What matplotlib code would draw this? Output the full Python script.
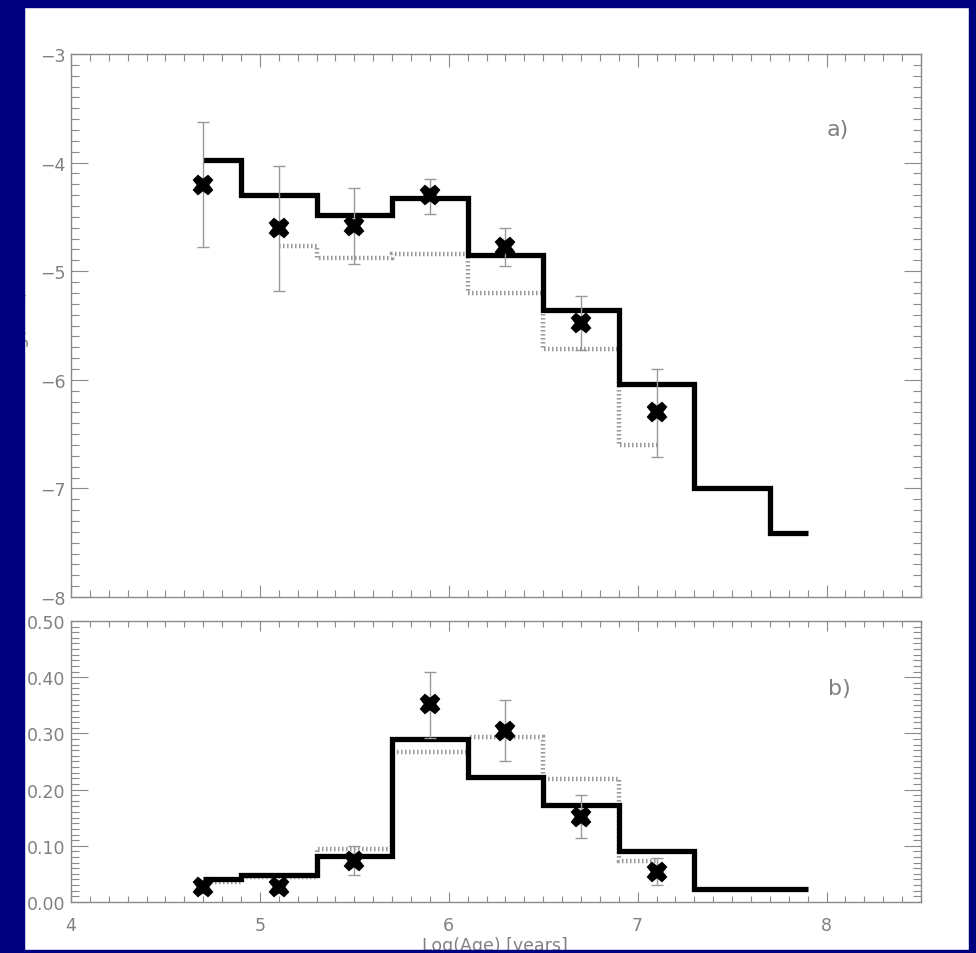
"""
SFR history (a) and age distribution (b): step histograms with data points.
"""
import matplotlib
matplotlib.use('Agg')
import matplotlib.pyplot as plt
from matplotlib.patches import Rectangle
from matplotlib.ticker import MultipleLocator, FormatStrFormatter, FuncFormatter

# --- data -------------------------------------------------------------
# panel a: log SFR
a_edges = [4.7, 4.9, 5.3, 5.7, 6.1, 6.5, 6.9, 7.3, 7.7, 7.9]
a_model = [-3.98, -4.30, -4.48, -4.33, -4.85, -5.36, -6.04, -7.00, -7.41]
a_alt_edges = [5.1, 5.3, 5.7, 6.1, 6.5, 6.9, 7.1]
a_alt = [-4.77, -4.88, -4.84, -5.20, -5.72, -6.60]
a_x = [4.7, 5.1, 5.5, 5.9, 6.3, 6.7, 7.1]
a_y = [-4.21, -4.60, -4.58, -4.30, -4.78, -5.48, -6.30]
a_err_lo = [0.57, 0.58, 0.35, 0.17, 0.17, 0.25, 0.41]
a_err_hi = [0.58, 0.57, 0.35, 0.15, 0.18, 0.25, 0.40]

# panel b: fraction
b_edges = [4.7, 4.9, 5.3, 5.7, 6.1, 6.5, 6.9, 7.3, 7.9]
b_model = [0.040, 0.048, 0.081, 0.290, 0.222, 0.173, 0.090, 0.023]
b_alt_edges = [4.7, 4.9, 5.3, 5.7, 6.1, 6.5, 6.9, 7.1]
b_alt = [0.036, 0.044, 0.095, 0.267, 0.293, 0.219, 0.073]
b_x = [4.7, 5.1, 5.5, 5.9, 6.3, 6.7, 7.1]
b_y = [0.026, 0.026, 0.073, 0.352, 0.305, 0.152, 0.054]
b_err_lo = [0.010, 0.010, 0.025, 0.060, 0.055, 0.038, 0.023]
b_err_hi = [0.010, 0.010, 0.027, 0.058, 0.055, 0.038, 0.024]

GRAY = '#8a8a8a'
LABEL = '#808080'
NAVY = '#00007f'

plt.rcParams['font.family'] = ['DejaVu Sans']

fig = plt.figure(figsize=(9.76, 9.54), dpi=100, facecolor='white')
ax_a = fig.add_axes([0.0727, 0.3732, 0.8709, 0.5691])
ax_b = fig.add_axes([0.0727, 0.0535, 0.8709, 0.2945])


def draw_panel(ax, edges, model, alt_edges, alt, x, y, lo, hi):
    ax.stairs(alt, alt_edges, baseline=None, color='#9a9a9a', lw=3.2,
              linestyle=(0, (0.35, 0.55)), zorder=2)
    ax.stairs(model, edges, baseline=None, color='black', lw=3.8, zorder=3)
    ax.errorbar(x, y, yerr=[lo, hi], fmt='none', ecolor='#999999',
                elinewidth=1.0, capsize=4, capthick=1.0, zorder=4)
    ax.plot(x, y, 'X', color='black', ms=13, mec='black', mew=1.5, zorder=5)


draw_panel(ax_a, a_edges, a_model, a_alt_edges, a_alt, a_x, a_y, a_err_lo, a_err_hi)
draw_panel(ax_b, b_edges, b_model, b_alt_edges, b_alt, b_x, b_y, b_err_lo, b_err_hi)

ax_a.set_xlim(4, 8.5)
ax_a.set_ylim(-8, -3)
ax_b.set_xlim(4, 8.5)
ax_b.set_ylim(0, 0.5)

for ax in (ax_a, ax_b):
    for s in ax.spines.values():
        s.set_color(GRAY)
        s.set_linewidth(1.0)
    ax.xaxis.set_major_locator(MultipleLocator(1))
    ax.xaxis.set_minor_locator(MultipleLocator(0.1))
    ax.tick_params(which='both', direction='in', top=True, right=True,
                   color=GRAY, width=0.8, labelcolor=LABEL, labelsize=12.5)

ax_a.yaxis.set_major_locator(MultipleLocator(1))
ax_a.yaxis.set_minor_locator(MultipleLocator(0.1))
ax_a.yaxis.set_major_formatter(FuncFormatter(lambda v, p: f'\u2212{abs(v):.0f}'))
ax_a.tick_params(axis='y', which='major', length=12.5, pad=4)
ax_a.tick_params(axis='y', which='minor', length=6)
ax_a.tick_params(axis='x', which='major', length=9, labelbottom=False)
ax_a.tick_params(axis='x', which='minor', length=5)

ax_b.yaxis.set_major_locator(MultipleLocator(0.1))
ax_b.yaxis.set_minor_locator(MultipleLocator(0.01))
ax_b.yaxis.set_major_formatter(FormatStrFormatter('%.2f'))
ax_b.tick_params(axis='y', which='major', length=12, pad=4)
ax_b.tick_params(axis='y', which='minor', length=5.5)
ax_b.tick_params(axis='x', which='major', length=7.5, pad=10)
ax_b.tick_params(axis='x', which='minor', length=4)

ax_a.text(8.06, -3.69, 'a)', fontsize=16, color=LABEL, ha='center', va='center')
ax_b.text(8.07, 0.38, 'b)', fontsize=16, color=LABEL, ha='center', va='center')

fig.text(0.0185, 1 - 327 / 954, 'Log(SFR)', rotation=90, fontsize=12.5,
         color=LABEL, ha='center', va='center')
fig.text(0.507, 1 - 937 / 954, 'Log(Age) [years]', fontsize=12.5,
         color=LABEL, ha='center', va='top')

# navy frame around the slide
W, H = 976, 954
for (x0, y0, w, h) in [(0, 0, 24, H), (969, 0, W - 969, H),
                       (0, H - 8, W, 8), (0, 0, W, H - 951)]:
    fig.patches.append(Rectangle((x0 / W, y0 / H), w / W, h / H,
                                 transform=fig.transFigure, color=NAVY,
                                 zorder=10))

fig.savefig('out.png', dpi=100, facecolor='white')
